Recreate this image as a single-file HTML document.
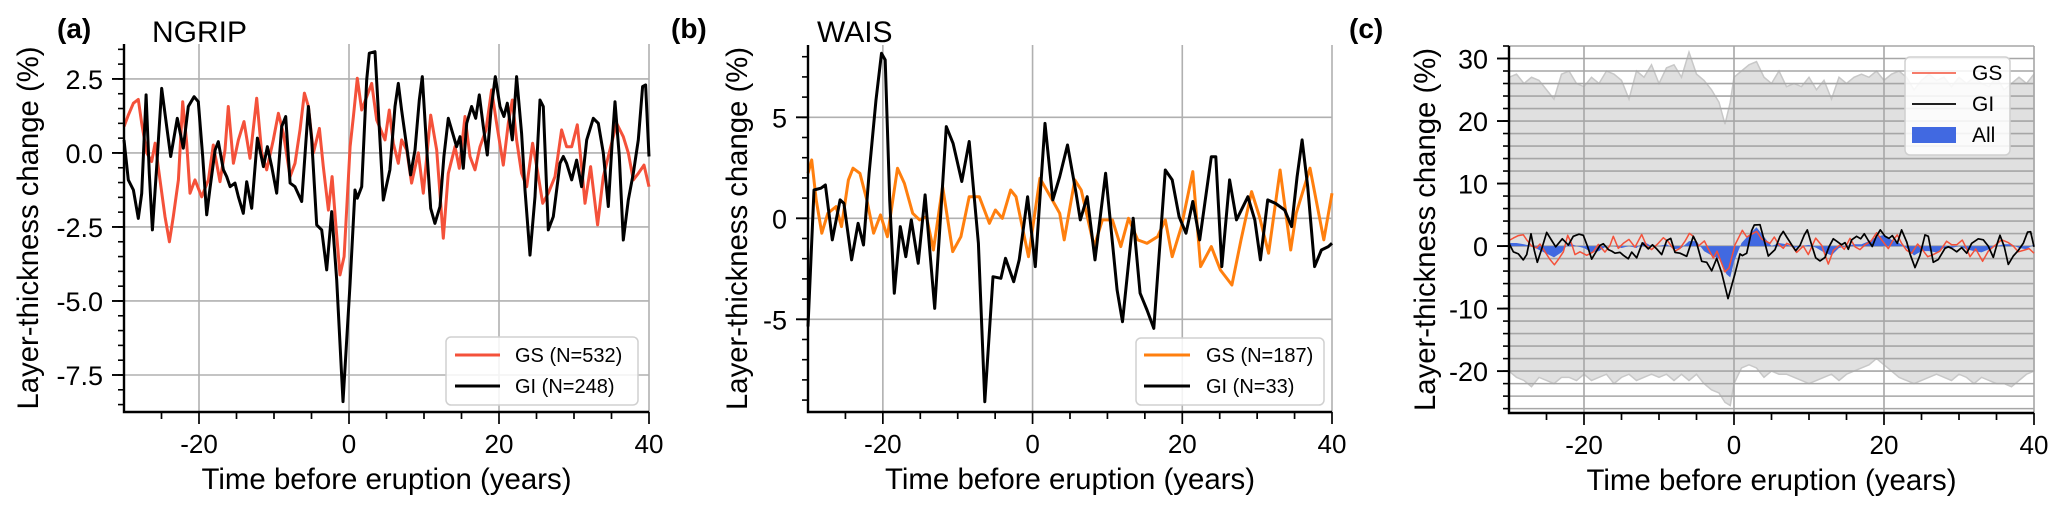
<!DOCTYPE html>
<html><head><meta charset="utf-8">
<style>
html,body{margin:0;padding:0;background:#fff;}
svg{display:block;font-family:"Liberation Sans",Arial,sans-serif;}
</style></head>
<body>
<svg id="fig" width="2067" height="515" viewBox="0 0 2067 515" xmlns="http://www.w3.org/2000/svg"></svg>
<script>
// ---- Panel (a) NGRIP data ----
const aYearsGI=[-30.09,-29.42,-28.75,-28.09,-27.64,-27.06,-26.62,-26.22,-25.64,-24.97,-24.31,-23.77,-22.89,-22.09,-21.42,-20.66,-20.09,-19.51,-18.97,-18.53,-17.86,-17.42,-16.75,-16.31,-15.86,-15.2,-14.75,-14.09,-13.64,-12.97,-12.22,-11.42,-10.88,-10.31,-9.64,-8.97,-8.44,-7.86,-7.2,-6.31,-5.42,-4.97,-4.31,-3.64,-2.97,-2.31,-1.64,-0.8,0.14,0.8,1.11,1.69,2.36,2.71,3.47,3.91,4.57,5.46,6.13,6.57,7.02,7.69,8.22,8.8,9.37,9.77,10.35,10.89,11.46,12.13,12.66,13.24,13.69,14.35,14.8,15.24,15.69,16.35,16.89,17.37,17.91,18.44,18.93,19.51,20.13,20.66,21.11,21.77,22.35,23.02,23.46,24.13,24.8,25.46,25.91,26.57,27.24,28.13,28.57,29.02,29.69,30.35,31.02,31.69,32.57,33.24,33.91,34.57,35.11,35.46,36.04,36.57,37.24,37.91,38.57,39.15,39.55,40];
const aGI=[0.44,-0.91,-1.25,-2.21,-1.37,1.96,-0.69,-2.6,-0.46,2.18,0.89,-0.12,1.17,0.16,1.57,1.9,1.73,-0.12,-2.09,-1.19,0.1,0.38,-0.57,-0.8,-1.14,-1.02,-1.48,-2.04,-0.97,-1.87,0.5,-0.46,0.21,-0.46,-1.36,0.89,1.23,-1.02,-1.14,-1.64,1.57,0.44,-2.43,-2.6,-3.95,-1.98,-4.29,-8.4,-4.4,-1.25,-1.53,-1.14,2.47,3.37,3.42,1.45,-1.59,-0.57,1.57,2.35,1.45,0.21,-0.74,0.1,1.79,2.58,0.21,-1.87,-2.38,-1.81,-0.12,1.17,0.78,0.21,0.55,-0.52,1.0,1.57,1.17,1.96,0.89,-0.07,1.45,2.58,1.57,1.23,1.68,0.44,2.58,0.66,-1.25,-3.45,-1.48,1.79,1.57,-2.6,-2.15,-0.35,-0.12,-0.35,-0.91,-0.24,-1.14,0.44,1.17,1.0,0,-1.81,0.44,1.73,-0.12,-2.94,-1.59,-0.69,0.44,2.24,2.3,-0.12];
const aYearsGS=[-30.09,-29.42,-28.75,-28.09,-27.64,-26.98,-26.31,-25.86,-25.2,-24.53,-23.95,-23.42,-22.75,-22.17,-21.64,-21.2,-20.53,-19.64,-18.75,-18.09,-17.2,-16.53,-16.09,-15.42,-14.75,-14.0,-13.2,-12.31,-11.64,-10.97,-10.09,-9.42,-8.75,-7.86,-7.2,-6.53,-5.95,-5.42,-4.75,-3.95,-3.42,-2.75,-2.26,-1.73,-1.2,-0.66,0.14,0.58,1.11,1.69,2.36,3.03,3.69,4.8,5.37,5.91,6.57,7.02,7.69,8.35,9.24,9.91,10.89,11.69,12.57,13.24,14.13,14.71,15.46,16.13,16.8,17.46,18.26,19.02,19.68,20.57,21.24,21.77,22.35,23.02,23.69,24.48,25.11,25.82,26.57,27.46,28.35,29.02,29.69,30.44,31.02,31.46,32.22,33.15,33.91,34.57,35.68,36.57,37.24,37.91,38.57,39.33,40];
const aGS=[0.89,1.28,1.68,1.81,1.0,0,-0.29,0.33,-0.91,-2.15,-3.0,-2.15,-0.91,1.73,0.33,-1.36,-0.91,-1.48,-0.91,0.27,-0.97,0.1,1.57,-0.35,0.44,1.06,-0.18,1.85,0,-0.57,0.44,1.34,0.66,-0.8,-0.35,0.78,2.02,1.57,0,0.83,-0.46,-1.93,-0.8,-2.49,-4.12,-3.5,0.21,1.23,2.52,1.45,1.9,2.35,1.11,0.44,1.45,0.33,-0.35,0.44,0.1,-1.02,0,-1.36,1.28,0.1,-2.88,-0.69,0.21,-0.52,1.23,-0.12,-0.57,0.21,0.78,2.13,1.0,-0.41,1.0,1.79,0.44,-0.69,-1.14,0.33,-0.57,-1.7,-1.36,-0.8,0.78,0.21,0.21,0.95,-0.46,-1.7,-0.46,-2.43,-0.8,-0.12,1.0,0.55,0,-0.91,-0.69,-0.41,-1.14];
const aYTicks=[2.5,0,-2.5,-5,-7.5];
const aYTickLabels=["2.5","0.0","-2.5","-5.0","-7.5"];
// ---- Panel (b) WAIS data ----
const bYearsGI=[-30,-29.2,-28.28,-27.67,-26.75,-25.71,-25.21,-24.17,-23.31,-22.58,-21.84,-20.92,-20.18,-19.69,-19.08,-18.47,-17.67,-16.93,-16.2,-15.28,-14.36,-13.07,-11.53,-10.61,-9.45,-8.47,-7.24,-6.38,-5.28,-4.23,-3.62,-2.52,-1.78,-0.67,0.37,1.66,2.7,3.62,4.66,5.77,6.38,7.3,8.34,9.75,11.29,12.02,13.44,14.36,15.28,16.2,17.73,18.65,19.57,20.49,21.41,22.33,23.87,24.48,25.28,26.32,27.24,28.77,29.69,30.43,31.41,32.45,33.68,34.6,35.34,36.01,36.75,37.67,38.59,39.51,40];
const bGI=[-5.36,1.4,1.49,1.65,-1.07,0.91,0.74,-2.06,-0.25,-1.32,2.23,5.86,8.17,7.84,0.91,-3.71,-0.41,-1.9,-0.08,-2.23,1.16,-4.46,4.54,3.71,1.82,3.8,-1.24,-9.08,-2.89,-2.97,-1.98,-3.14,-2.06,1.07,-2.39,4.7,0.91,2.06,3.63,1.32,-0.08,1.07,-2.06,2.23,-3.55,-5.12,0,-3.71,-4.54,-5.45,2.39,1.9,0.08,-0.74,0.83,-1.07,3.05,3.05,-2.39,1.9,-0.08,1.07,-0.08,-2.06,0.91,0.74,0.41,-0.41,2.06,3.88,1.57,-2.39,-1.57,-1.4,-1.24];
const bYearsGS=[-30,-29.51,-28.9,-28.16,-27.36,-26.26,-25.52,-24.6,-23.99,-23.07,-22.15,-21.23,-20.31,-19.39,-18.04,-17.12,-16.01,-15.09,-14.17,-13.25,-12.02,-10.67,-9.57,-8.47,-7.12,-5.77,-4.97,-4.05,-2.94,-2.21,-0.55,0.98,2.39,3.62,4.23,5.64,6.5,8.22,9.33,10.67,11.78,12.82,14.05,15.28,16.69,17.73,18.65,19.88,21.41,22.45,23.87,25.09,26.63,27.85,29.26,30.31,31.53,33.07,34.48,35.22,37.06,38.9,40];
const bGS=[2.23,2.89,0.91,-0.74,0.25,0.58,-0.41,1.9,2.48,2.23,0.91,-0.74,0.17,-0.91,2.48,1.73,0.25,-0.08,0.08,-1.57,1.57,-1.65,-0.91,1.07,1.07,-0.25,0.41,0,1.4,1.07,-1.9,1.98,1.07,0.25,-1.07,1.9,1.4,-1.4,-0.08,-0.08,-1.4,0,-1.07,-1.24,-0.91,-0.08,-1.9,-0.41,2.31,-2.39,-1.4,-2.56,-3.3,-1.07,1.32,0.08,-1.73,2.39,-1.57,0.25,2.48,-1.07,1.24];
const bYTicks=[5,0,-5];
const bYTickLabels=["5","0","-5"];
// ---- Panel (c) combined data ----
const cYearsGI=aYearsGI.slice();
const cGI=aGI.slice();
const cYearsGS=aYearsGS.slice();
const cGS=aGS.slice();
const cYearsAll=[-30,-29,-28,-27,-26,-25,-24,-23,-22,-21,-20,-19,-18,-17,-16,-15,-14,-13,-12,-11,-10,-9,-8,-7,-6,-5,-4,-3,-2,-1,-0.5,0,1,2,3,4,5,6,7,8,9,10,11,12,13,14,15,16,17,18,19,20,21,22,23,24,25,26,27,28,29,30,31,32,33,34,35,36,37,38,39,40];
const cAll=[0.5,0.5,0.3,0,-0.6,-1.2,-1.8,-1,0.5,0,-0.3,-1,-0.8,0,0,-0.3,0,-0.3,0.7,0,0,0.3,-0.5,-0.3,0.8,0.8,-0.8,-1.5,-2,-4.5,-5,-2.5,0.5,1.8,3,1.5,0,0.5,0.3,-0.3,0,0.2,-0.3,-1,-1.5,-0.3,0,0.3,0.3,0.8,1.5,1.8,1,0.5,-0.3,-1.5,-0.8,-0.8,-1,-0.3,-0.3,0,-0.5,-0.8,-1,-0.5,0,0.3,0.3,-0.3,-0.5,0.3];
const cEnvYears=[-30,-29,-28,-27,-26,-25,-24,-23,-22,-21,-20,-19,-18,-17,-16,-15,-14,-13,-12,-11,-10,-9,-8,-7,-6,-5,-4,-3,-2,-1.2,-0.5,0,1,2,3,4,5,6,7,8,9,10,11,12,13,14,15,16,17,18,19,20,21,22,23,24,25,26,27,28,29,30,31,32,33,34,35,36,37,38,39,40];
const cUpper=[27,27.5,26,27,26.5,25,23.5,27.5,28,26,25.5,27,26,28,27.5,26.5,23.5,28,27,29,26,28.5,29,27,31,27.5,26.5,25,23,19.5,23,27,28,29,29.5,27,26,28,25.5,26,25.5,27,25,26.5,23.5,27,26,27,27.5,27,28,26.5,27.5,28,27,25,26.5,27.5,26.5,27,25.5,27,26,27,26,25.5,27,25,26,27,26,27.5];
const cLower=[-20,-21,-21.5,-22.5,-21,-21.5,-22,-21,-21,-21.5,-20.5,-21.5,-21,-20.5,-22,-21,-20.5,-21.5,-21,-20.5,-21,-20.5,-21.5,-20.5,-21.5,-20.5,-22,-23,-23.5,-25,-25.5,-22,-19.5,-19,-19.5,-21,-20,-20.5,-20.5,-21,-21.5,-22,-21.5,-21,-20.5,-21.5,-20.5,-20,-19.5,-19,-18,-19,-20,-21,-21.5,-22,-21.5,-21,-20.5,-21,-21.5,-20.5,-21,-22,-21,-21.5,-22,-22,-22.5,-21.5,-20.5,-20];
const cYTicks=[30,20,10,0,-10,-20];
const cYTickLabels=["30","20","10","0","-10","-20"];
const xTicks=[-20,0,20,40];
const xTickLabels=["-20","0","20","40"];

const NS="http://www.w3.org/2000/svg";
const fig=document.getElementById('fig');
function mk(tag,attrs,parent){const e=document.createElementNS(NS,tag);for(const k in attrs)e.setAttribute(k,attrs[k]);(parent||fig).appendChild(e);return e;}

function panel(o){
  const g=mk('g',{});
  
  
  const sx=v=>o.x0+(v+30)/70*(o.x1-o.x0);
  const sy=v=>o.yTop+(o.ymax-v)/(o.ymax-o.ymin)*(o.yBot-o.yTop);
  const grid=mk('g',{},g);
  
  
  if(o.shade){
    let d='M'+sx(cEnvYears[0])+','+sy(cUpper[0]);
    for(let i=1;i<cEnvYears.length;i++)d+='L'+sx(cEnvYears[i])+','+sy(cUpper[i]);
    for(let i=cEnvYears.length-1;i>=0;i--)d+='L'+sx(cEnvYears[i])+','+sy(cLower[i]);
    const env=mk('path',{d:d+'Z',fill:'#e0e0e0',stroke:'#c8c8c8','stroke-width':1.5},g);
    
    
    for(let v=-26;v<=32;v+=2){
      const l=mk('line',{x1:o.x0,x2:o.x1,y1:sy(v),y2:sy(v),stroke:'#a6a6a6','stroke-width':1.6},g);
      
      
    }
  } else {
    o.yTicks.forEach(v=>{
      const l=mk('line',{x1:o.x0,x2:o.x1,y1:sy(v),y2:sy(v),stroke:'#b0b0b0','stroke-width':1.6},grid);
      
      
    });
  }
  xTicks.forEach(v=>{
    const l=mk('line',{x1:sx(v),x2:sx(v),y1:o.yTop,y2:o.yBot,stroke:o.shade?'#a6a6a6':'#b0b0b0','stroke-width':1.6},g);
    
    
  });
  if(o.shade){
    let d='M'+sx(cYearsAll[0])+','+sy(0);
    for(let i=0;i<cYearsAll.length;i++)d+='L'+sx(cYearsAll[i])+','+sy(cAll[i]);
    d+='L'+sx(cYearsAll[cYearsAll.length-1])+','+sy(0)+'Z';
    const f=mk('path',{d:d,fill:'#4169e1',stroke:'none'},g);
    
    
  }
  o.series.forEach(s=>{
    let d='';
    for(let i=0;i<s.xs.length;i++)d+=(i?'L':'M')+sx(Math.max(-30,Math.min(40,s.xs[i]))).toFixed(1)+','+sy(s.ys[i]).toFixed(1);
    const p=mk('path',{d:d,fill:'none',stroke:s.color,'stroke-width':s.w,'stroke-linejoin':'round'},g);
    
    
  });
  const ax=mk('path',{d:`M${o.x0},${o.yTop}V${o.yBot}H${o.x1}`,fill:'none',stroke:'#000','stroke-width':2.4},g);
  
  
  for(let v=Math.ceil(o.ymin/o.minor)*o.minor;v<=o.ymax;v+=o.minor){
    const t=mk('line',{x1:o.x0-6,x2:o.x0,y1:sy(v),y2:sy(v),stroke:'#000','stroke-width':1.6},g);
    
    
  }
  o.yTicks.forEach((v,i)=>{
    const t=mk('line',{x1:o.x0-12,x2:o.x0,y1:sy(v),y2:sy(v),stroke:'#000','stroke-width':1.9},g);
    
    
    const tx=mk('text',{x:o.x0-21,y:sy(v)+10,'text-anchor':'end','font-size':27,fill:'#000'},g);
    tx.textContent=o.yLabels[i];
    
    
  });
  for(let v=-25;v<=40;v+=5){
    const major=xTicks.indexOf(v)>=0;
    const t=mk('line',{x1:sx(v),x2:sx(v),y1:o.yBot,y2:o.yBot+(major?12:7),stroke:'#000','stroke-width':1.7},g);
    
    
  }
  xTicks.forEach((v,i)=>{
    const tx=mk('text',{x:sx(v),y:o.yBot+41,'text-anchor':'middle','font-size':26,fill:'#000'},g);
    tx.textContent=xTickLabels[i];
    
    
  });
  const xl=mk('text',{x:(o.x0+o.x1)/2,y:o.yBot+77,'text-anchor':'middle','font-size':30,fill:'#000',textLength:370,lengthAdjust:'spacingAndGlyphs'},g);
  xl.textContent='Time before eruption (years)';
  
  
  const yl=mk('text',{x:0,y:0,'text-anchor':'middle','font-size':30,fill:'#000',textLength:363,lengthAdjust:'spacingAndGlyphs',transform:`translate(${o.ylx},${(o.yTop+o.yBot)/2}) rotate(-90)`},g);
  yl.textContent='Layer-thickness change (%)';
  
  
  const pl=mk('text',{x:o.px,y:38,'font-size':28,'font-weight':'bold',fill:'#000'},g);
  pl.textContent=o.plabel;
  
  
  if(o.title){
    const ti=mk('text',{x:o.tx,y:42,'font-size':30,fill:'#000'},g);
    ti.textContent=o.title;
    
    
  }
  const L=o.legend;
  const lg=mk('g',{},g);
  
  
  mk('rect',{x:L.x,y:L.y,width:L.w,height:L.h,rx:5,fill:'#fff','fill-opacity':0.85,stroke:'#d0d0d0','stroke-width':1.5},lg);
  L.items.forEach((it,i)=>{
    const cy=L.y+L.first+i*L.step;
    const e=mk('g',{},lg);
    
    
    if(it.patch){mk('rect',{x:L.lx,y:cy-8,width:L.lw,height:16,fill:'#4169e1'},e);}
    else mk('line',{x1:L.lx,x2:L.lx+L.lw,y1:cy,y2:cy,stroke:it.color,'stroke-width':it.w},e);
    const t=mk('text',{x:L.tx,y:cy+7,'font-size':L.fs,fill:'#000'},e);
    t.textContent=it.label;
  });
}

panel({name:'panel-a-ngrip',x0:124,x1:649,yTop:44,yBot:412,ymax:3.68,ymin:-8.75,minor:0.5,
  yTicks:aYTicks,yLabels:aYTickLabels,ylx:38,px:57,plabel:'(a)',title:'NGRIP',tx:152,
  series:[{name:'gs-line-a',xs:aYearsGS,ys:aGS,color:'#f4513a',w:3},{name:'gi-line-a',xs:aYearsGI,ys:aGI,color:'#000',w:3}],
  legend:{x:446,y:337,w:192,h:68,first:18,step:31,lx:455,lw:45,tx:515,fs:20,items:[{label:'GS (N=532)',color:'#f4513a',w:3},{label:'GI (N=248)',color:'#000',w:3}]}});
panel({name:'panel-b-wais',x0:808,x1:1332,yTop:45,yBot:412,ymax:8.58,ymin:-9.59,minor:1,
  yTicks:bYTicks,yLabels:bYTickLabels,ylx:747,px:671,plabel:'(b)',title:'WAIS',tx:817,
  series:[{name:'gs-line-b',xs:bYearsGS,ys:bGS,color:'#ff7f0e',w:3},{name:'gi-line-b',xs:bYearsGI,ys:bGI,color:'#000',w:3}],
  legend:{x:1136,y:338,w:188,h:67,first:17,step:31,lx:1144,lw:46,tx:1206,fs:20,items:[{label:'GS (N=187)',color:'#ff7f0e',w:3},{label:'GI (N=33)',color:'#000',w:3}]}});
panel({name:'panel-c-combined',x0:1509,x1:2034,yTop:46,yBot:413,ymax:32.0,ymin:-26.7,minor:2,shade:true,
  yTicks:cYTicks,yLabels:cYTickLabels,ylx:1435,px:1349,plabel:'(c)',title:null,
  series:[{name:'gs-line-c',xs:cYearsGS,ys:cGS,color:'#f4513a',w:1.5},{name:'gi-line-c',xs:cYearsGI,ys:cGI,color:'#000',w:1.7}],
  legend:{x:1905,y:57,w:105,h:98,first:16,step:31,lx:1912,lw:44,tx:1972,fs:21,items:[{label:'GS',color:'#f4513a',w:1.5},{label:'GI',color:'#000',w:1.7},{label:'All',patch:true}]}});
</script>
</body></html>
